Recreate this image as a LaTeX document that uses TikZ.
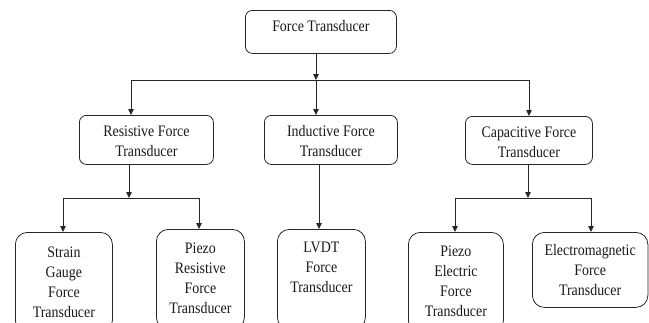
\documentclass[tikz,border=0pt]{standalone}
\usepackage{fontspec}
\setmainfont[FakeStretch=0.87]{Liberation Serif}
\usetikzlibrary{arrows.meta}
\tikzset{
  box/.style={draw=black!85, line width=0.8pt, rounded corners=7pt, inner sep=0pt, anchor=north west,
    font=\fontsize{16pt}{20pt}\selectfont, text=black!90},
  lowbox/.style={box, rounded corners=12pt},
  arr/.style={draw=black!85, line width=0.8pt, -{Triangle[length=6pt,width=5.5pt]}},
  ln/.style={draw=black!85, line width=0.8pt}
}
\newcommand{\boxtext}[4]{\parbox[c][#1][t]{#2}{\centering\rule{0pt}{#3}#4}}
\begin{document}
\begin{tikzpicture}[x=1pt,y=-1pt]
\useasboundingbox (0,0) rectangle (649,322);
\clip (0,0) rectangle (649,322);
% boxes
\node[box] (ft) at (245,10) {\boxtext{43pt}{151pt}{21pt}{Force Transducer}};
\node[box] (res) at (79,115) {\boxtext{49pt}{134pt}{21.5pt}{Resistive Force\\Transducer}};
\node[box] (ind) at (264,115) {\boxtext{49pt}{133pt}{21.5pt}{Inductive Force\\Transducer}};
\node[box] (cap) at (465,116) {\boxtext{48pt}{127pt}{21pt}{Capacitive Force\\Transducer}};
\node[lowbox] (sg) at (15,232) {\boxtext{100pt}{97pt}{25pt}{Strain\\Gauge\\Force\\Transducer}};
\node[lowbox] (pr) at (156,229) {\boxtext{100pt}{88pt}{24.5pt}{Piezo\\Resistive\\Force\\Transducer}};
\node[lowbox] (lv) at (277,229) {\boxtext{100pt}{88pt}{23.5pt}{LVDT\\Force\\Transducer}};
\node[lowbox] (pe) at (408,232) {\boxtext{100pt}{95pt}{24pt}{Piezo\\Electric\\Force\\Transducer}};
\node[lowbox] (em) at (532,232) {\boxtext{75pt}{115.5pt}{23.5pt}{Electromagnetic\\Force\\Transducer}};
% junctions
\coordinate (j0) at (316,80);
\coordinate (jl) at (131,80);
\coordinate (jr) at (529,80);
\coordinate (k1) at (129,198);
\coordinate (k1l) at (63,198);
\coordinate (k1r) at (199,198);
\coordinate (k3) at (528,198);
\coordinate (k3l) at (455,198);
\coordinate (k3r) at (591,198);
\coordinate (k2) at (319,200);
% connectors level 1
\draw[arr] (ft.south -| j0) -- (j0);
\draw[ln] (jl) -- (jr);
\draw[arr] (jl) -- (res.north -| jl);
\draw[arr] (j0) -- (ind.north -| j0);
\draw[arr] (jr) -- (cap.north -| jr);
% level 2
\draw[arr] (res.south -| k1) -- (k1);
\draw[ln] (k1l) -- (k1r);
\draw[arr] (k1l) -- (sg.north -| k1l);
\draw[arr] (k1r) -- (pr.north -| k1r);
\draw[arr] (ind.south -| k2) -- (lv.north -| k2);
\draw[arr] (cap.south -| k3) -- (k3);
\draw[ln] (k3l) -- (k3r);
\draw[arr] (k3l) -- (pe.north -| k3l);
\draw[arr] (k3r) -- (em.north -| k3r);
\end{tikzpicture}
\end{document}
